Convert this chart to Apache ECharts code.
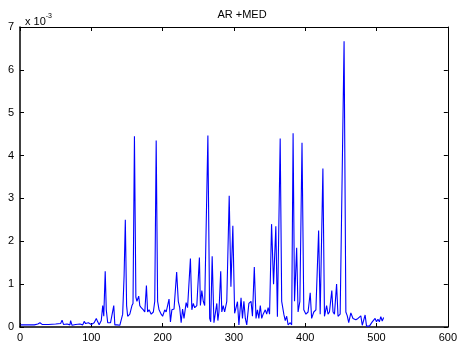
<!DOCTYPE html>
<html>
<head>
<meta charset="utf-8">
<script src="https://cdn.jsdelivr.net/npm/echarts@6/dist/echarts.min.js"></script>
<style>
  html, body { margin: 0; padding: 0; background: #fff; }
  #chart { width: 460px; height: 346px; }
</style>
</head>
<body>
<div id="chart"></div>
<script>
// sample index (x) and value in units of 1e-3 (y)
const xs = [1, 10, 20, 25, 28, 31, 40, 50, 57, 59, 61, 66, 70, 71, 73, 78, 84, 88, 90, 92,
  96, 100, 104, 107, 109, 111, 114, 116, 117.5, 119.5, 121, 123, 127, 129, 131.5, 133, 136, 138, 140, 142,
  144, 146, 147.7, 149.5, 151, 154, 157, 158.5, 160.5, 162.5, 164, 166.5, 168, 170, 173, 175, 177.3, 179, 181, 184,
  187, 189, 191, 193, 195, 198, 200, 203, 205, 209, 211, 213, 216, 219.7, 222, 224, 226, 228, 230, 233,
  235, 239, 241, 243, 245, 248, 251.6, 253, 255, 257, 259, 263.5, 266, 267.5, 269.5, 272, 274, 276, 277.5, 279,
  281.5, 283, 285, 287, 290, 293.4, 295.8, 298.5, 301, 303, 305, 307, 310, 312, 314, 316, 318, 321, 324, 326,
  328.6, 331, 333, 335, 337, 339, 341, 344, 346, 348, 350, 352.8, 355.6, 358.8, 361, 364.9, 367, 370, 372, 374,
  376, 379, 381, 383, 385, 388, 390, 392.5, 395.5, 398, 401, 404, 407, 409, 412, 415, 418.8, 421, 424.8, 427,
  430, 432, 434, 437.3, 439, 441, 444, 446, 449, 451, 454.5, 457, 459, 461, 464, 467, 471, 474, 478, 480,
  484, 486, 490, 494, 496, 498, 500, 502, 504, 506, 508, 510];
const ys = [0.05, 0.05, 0.05, 0.07, 0.1, 0.06, 0.06, 0.07, 0.08, 0.16, 0.06, 0.07, 0.05, 0.15, 0.04, 0.06, 0.07, 0.05, 0.13, 0.08,
  0.1, 0.06, 0.1, 0.2, 0.12, 0.05, 0.15, 0.5, 0.25, 1.3, 0.4, 0.1, 0.1, 0.08, 0.5, 0.05, 0.05, 0.02, 0.04, 0.0,
  0.3, 1.2, 2.5, 0.5, 0.25, 0.3, 0.5, 0.55, 4.45, 0.7, 0.6, 0.72, 0.5, 0.45, 0.4, 0.35, 0.97, 0.35, 0.4, 0.3,
  0.35, 0.6, 4.35, 0.6, 0.4, 0.3, 0.25, 0.4, 0.35, 0.65, 0.12, 0.4, 0.42, 1.28, 0.6, 0.45, 0.1, 0.42, 0.2, 0.57,
  0.45, 1.6, 0.4, 0.55, 0.45, 0.5, 1.62, 0.5, 0.85, 0.6, 0.5, 4.47, 0.2, 0.12, 1.65, 0.1, 0.12, 0.55, 0.15, 0.35,
  1.3, 0.35, 0.5, 0.35, 0.6, 3.06, 0.94, 2.36, 0.32, 0.45, 0.59, 0.05, 0.68, 0.2, 0.6, 0.2, 0.05, 0.55, 0.6, 0.25,
  1.4, 0.2, 0.4, 0.2, 0.5, 0.2, 0.3, 0.4, 0.3, 0.45, 0.3, 2.4, 1.0, 2.35, 0.24, 4.4, 0.6, 0.3, 0.15, 0.25,
  0.05, 0.1, 0.05, 4.52, 0.6, 1.85, 0.35, 0.6, 4.3, 0.4, 0.3, 0.35, 0.8, 0.2, 0.35, 0.4, 2.25, 0.3, 3.7, 0.25,
  0.5, 0.3, 0.35, 0.85, 0.35, 0.3, 1.0, 0.25, 0.3, 0.3, 6.67, 0.35, 0.26, 0.1, 0.33, 0.2, 0.17, 0.2, 0.26, 0.04,
  0.28, 0.02, 0.02, 0.12, 0.08, 0.2, 0.12, 0.18, 0.12, 0.24, 0.14, 0.22];

const titleText = "AR +MED";
const xTicks = [0, 100, 200, 300, 400, 500, 600];
const yTicks = [0, 1, 2, 3, 4, 5, 6, 7];

const chart = echarts.init(document.getElementById("chart"), null, { renderer: "canvas" });

const font = "Arial, 'Liberation Sans', Helvetica, sans-serif";
function axis(width, extra) {
  return Object.assign({
    type: "value",
    axisLine: { show: true, onZero: false, lineStyle: { color: "#000", width: width } },
    axisTick: { show: true, inside: true, length: 4, lineStyle: { color: "#000" } },
    splitLine: { show: false }
  }, extra);
}

chart.setOption({
  animation: false,
  backgroundColor: "#fff",
  title: [
    {
      text: titleText,
      left: 237,
      top: 4,
      textAlign: "center",
      textStyle: { fontFamily: font, fontSize: 11, fontWeight: "normal", color: "#000" }
    },
    {
      text: "{a|x 10}{b|-3}",
      left: 20,
      top: 8,
      textStyle: {
        fontWeight: "normal",
        rich: {
          a: { fontFamily: font, fontSize: 11, fontWeight: "normal", color: "#000", verticalAlign: "bottom" },
          b: { fontFamily: font, fontSize: 7, fontWeight: "normal", color: "#000", verticalAlign: "top", padding: [0, 0, 7, 0] }
        }
      }
    }
  ],
  grid: { left: 20, right: 9, top: 27, bottom: 19, containLabel: false },
  xAxis: [
    axis(1.5, {
      min: xTicks[0],
      max: xTicks[xTicks.length - 1],
      interval: 100,
      position: "bottom",
      axisLabel: { color: "#000", fontFamily: font, fontSize: 11, margin: 5 }
    }),
    axis(1, {
      min: xTicks[0],
      max: xTicks[xTicks.length - 1],
      interval: 100,
      position: "top",
      axisLabel: { show: false }
    })
  ],
  yAxis: [
    axis(1.5, {
      min: yTicks[0],
      max: yTicks[yTicks.length - 1],
      interval: 1,
      position: "left",
      axisLabel: { color: "#000", fontFamily: font, fontSize: 11, margin: 6 }
    }),
    axis(1, {
      min: yTicks[0],
      max: yTicks[yTicks.length - 1],
      interval: 1,
      position: "right",
      axisLabel: { show: false }
    })
  ],
  series: [
    {
      type: "line",
      data: xs.map((x, i) => [x, ys[i]]),
      showSymbol: false,
      symbol: "none",
      lineStyle: { color: "#0000ff", width: 1.1 },
      itemStyle: { color: "#0000ff" }
    }
  ]
});
</script>
</body>
</html>
